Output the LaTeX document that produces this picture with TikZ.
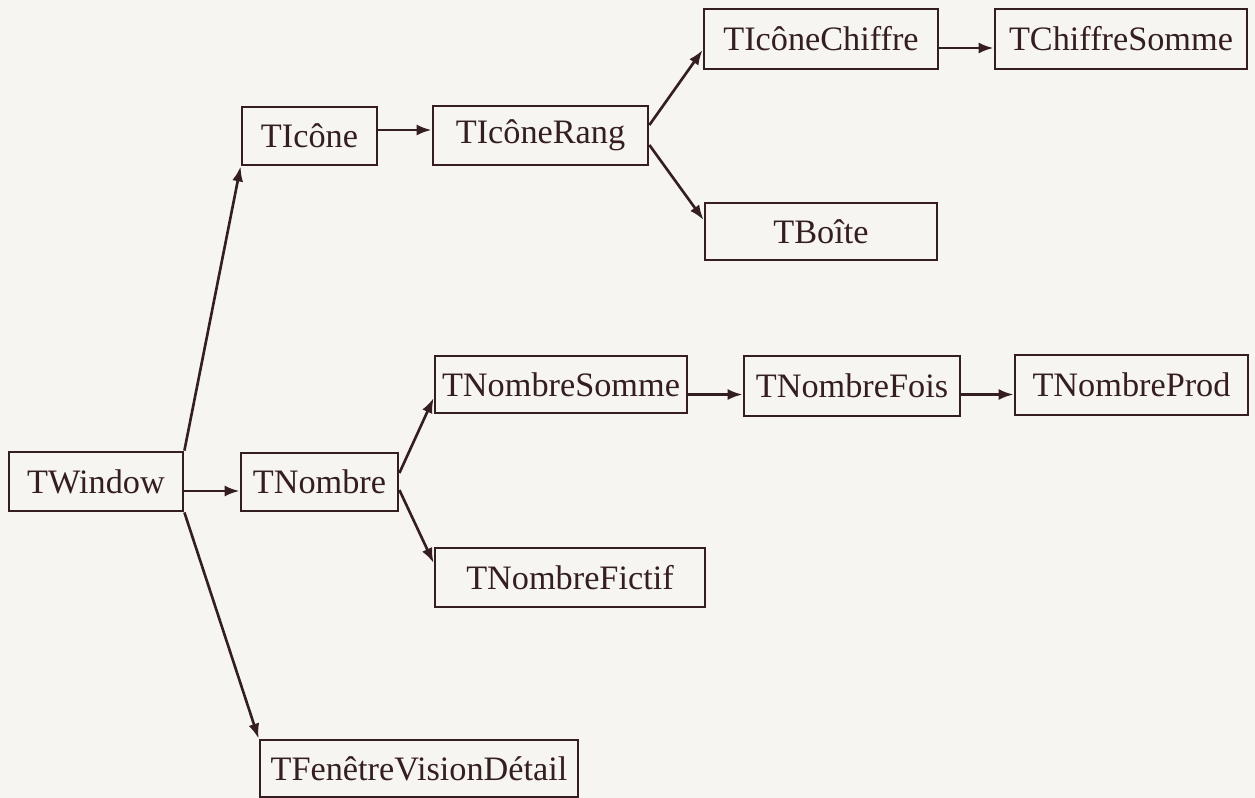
\documentclass[tikz,border=0pt]{standalone}
\usepackage{fontspec}
\setmainfont{Liberation Serif}
\usetikzlibrary{arrows.meta}
\definecolor{encre}{RGB}{52,30,34}
\definecolor{papier}{RGB}{246,245,241}
\tikzstyle{classe}=[draw, encre, line width=1.6pt, inner sep=0pt, text=encre, font=\fontsize{19.5}{20}\selectfont]
\tikzstyle{fleche}=[encre, line width=1.5pt, -{Latex[length=0.3cm,width=0.22cm]}]

\begin{document}
\begin{tikzpicture}[x=0.02cm, y=-0.02cm]
% Page
    \fill[papier] (0,0) rectangle (1255,798);
    \useasboundingbox (0,0) rectangle (1255,798);
% Classes
    \node[classe, minimum width=3.48cm, minimum height=1.18cm] (twindow) at (96,481.5) {TWindow};
    \node[classe, minimum width=2.70cm, minimum height=1.16cm] (ticone) at (309.5,136) {TIcône};
    \node[classe, minimum width=4.30cm, minimum height=1.18cm] (ticonerang) at (540.5,135.5) {TIcôneRang};
    \node[classe, minimum width=4.68cm, minimum height=1.20cm] (ticonechiffre) at (821,39) {TIcôneChiffre};
    \node[classe, minimum width=5.04cm, minimum height=1.20cm] (tchiffresomme) at (1121,39) {TChiffreSomme};
    \node[classe, minimum width=4.64cm, minimum height=1.14cm] (tboite) at (821,231.5) {TBoîte};
    \node[classe, minimum width=3.14cm, minimum height=1.16cm] (tnombre) at (319.5,482) {TNombre};
    \node[classe, minimum width=5.04cm, minimum height=1.14cm] (tnombresomme) at (561,384.5) {TNombreSomme};
    \node[classe, minimum width=4.32cm, minimum height=1.20cm] (tnombrefois) at (852,386) {TNombreFois};
    \node[classe, minimum width=4.66cm, minimum height=1.20cm] (tnombreprod) at (1131.5,385) {TNombreProd};
    \node[classe, minimum width=5.40cm, minimum height=1.18cm] (tnombrefictif) at (570,577.5) {TNombreFictif};
    \node[classe, minimum width=6.36cm, minimum height=1.14cm] (tfenetre) at (419,768.5) {TFenêtreVisionDétail};
% Inheritance from TWindow
    \draw[fleche] (twindow.north east) -- (ticone.south west);
    \draw[fleche] ([yshift=-0.19cm]twindow.east) -- ([yshift=-0.19cm]twindow.east -| tnombre.west);
    \draw[fleche] (twindow.south east) -- (tfenetre.north west);
% Icon branch
    \draw[fleche] ([yshift=0.12cm]ticone.east) -- ([yshift=0.12cm]ticone.east -| ticonerang.west);
    \draw[fleche] ([yshift=0.21cm]ticonerang.east) -- ([yshift=-0.22cm]ticonechiffre.west);
    \draw[fleche] ([yshift=-0.19cm]ticonerang.east) -- ([yshift=0.23cm]tboite.west);
    \draw[fleche] ([yshift=-0.18cm]ticonechiffre.east) -- ([yshift=-0.18cm]ticonechiffre.east -| tchiffresomme.west);
% Number branch
    \draw[fleche] ([yshift=0.18cm]tnombre.east) -- ([yshift=-0.27cm]tnombresomme.west);
    \draw[fleche] ([yshift=-0.16cm]tnombre.east) -- ([yshift=0.29cm]tnombrefictif.west);
    \draw[fleche] ([yshift=-0.2cm]tnombresomme.east) -- ([yshift=-0.2cm]tnombresomme.east -| tnombrefois.west);
    \draw[fleche] ([yshift=-0.17cm]tnombrefois.east) -- ([yshift=-0.17cm]tnombrefois.east -| tnombreprod.west);
\end{tikzpicture}
\end{document}
